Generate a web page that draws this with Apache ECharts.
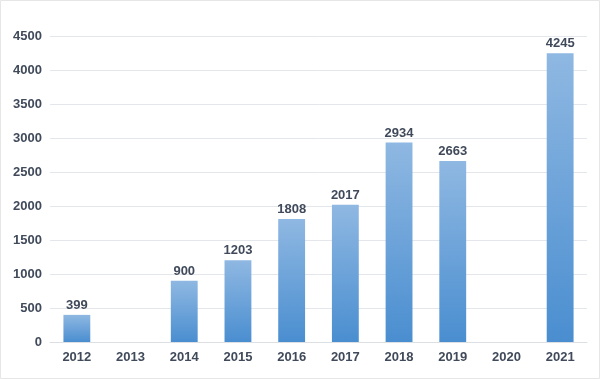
<!DOCTYPE html>
<html><head><meta charset="utf-8">
<script src="https://cdn.jsdelivr.net/npm/echarts@6/dist/echarts.min.js"></script>
<style>html,body{margin:0;padding:0;background:#fff}#c{width:600px;height:379px}</style>
</head><body><div id="c"></div>
<script>
var categories = ['2012','2013','2014','2015','2016','2017','2018','2019','2020','2021'];
var values = [399, null, 900, 1203, 1808, 2017, 2934, 2663, null, 4245];
var yTicks = {min: 0, max: 4500, interval: 500};

var chart = echarts.init(document.getElementById('c'));
var font = 'Liberation Sans, Arial, sans-serif';
chart.setOption({
  animation: false,
  backgroundColor: '#fff',
  graphic: [{type:'rect', shape:{x:0.5,y:0.5,width:599,height:378}, style:{fill:'none', stroke:'#e6e6e6', lineWidth:1}}],
  grid: {left: 50, right: 13, top: 36, bottom: 37},
  xAxis: {
    type: 'category', data: categories,
    axisLine: {lineStyle: {color: '#dcdfe3'}},
    axisTick: {show: false},
    axisLabel: {color: '#404a5a', fontSize: 13, fontWeight: 'bold', fontFamily: font, margin: 9}
  },
  yAxis: {
    type: 'value', min: yTicks.min, max: yTicks.max, interval: yTicks.interval,
    axisLine: {show: false}, axisTick: {show: false},
    splitLine: {lineStyle: {color: '#e3e6ea'}},
    axisLabel: {color: '#404a5a', fontSize: 13, fontWeight: 'bold', fontFamily: font, margin: 8,
      formatter: function (v) { return String(v); }}
  },
  series: [{
    type: 'bar', data: values, barWidth: '50%',
    itemStyle: {color: new echarts.graphic.LinearGradient(0,0,0,1,[{offset:0,color:'#8fb8e2'},{offset:1,color:'#4a8ed0'}])},
    label: {show: true, position: 'top', color: '#404a5a', fontSize: 13, fontWeight: 'bold', fontFamily: font, distance: 3}
  }]
});
</script></body></html>
